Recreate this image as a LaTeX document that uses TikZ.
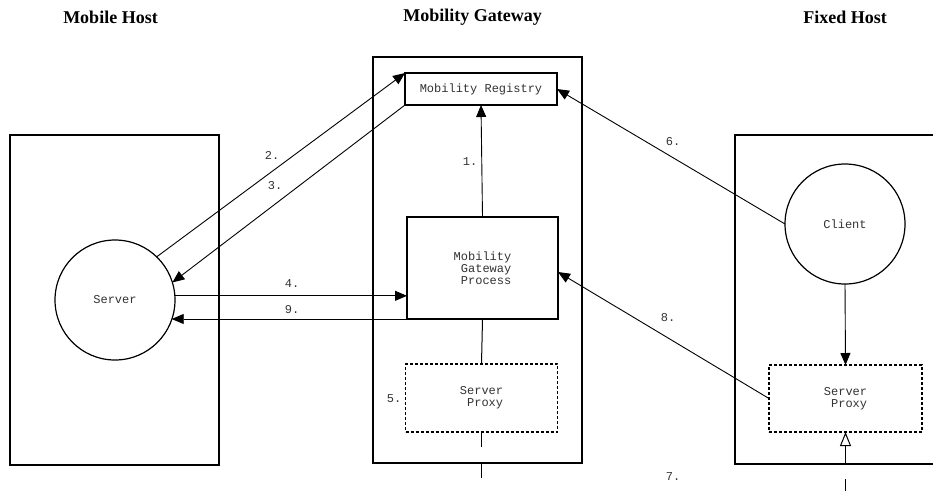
\documentclass[tikz,border=0pt]{standalone}
\usepackage{fontspec}
\setmainfont{Liberation Serif}
\newfontfamily\monofont{Liberation Mono}
\usetikzlibrary{arrows.meta}
\begin{document}
\begin{tikzpicture}[x=1pt,y=-1pt,
  title/.style={font=\fontsize{18}{20}\selectfont\bfseries},
  mono/.style={font=\monofont\fontsize{12}{12}\selectfont, text=black!80},
  hostbox/.style={draw, line width=1.4pt, inner sep=0pt, outer sep=0pt},
  solidbox/.style={draw, line width=1.4pt, inner sep=0pt, outer sep=0pt, mono, align=right},
  proxybox/.style={draw, line width=1.3pt, dash pattern=on 3pt off 2pt, inner sep=0pt, outer sep=0pt, mono, align=right},
  proc/.style={draw, circle, line width=1.2pt, minimum size=120pt, inner sep=0pt, outer sep=0pt, mono},
  conn/.style={line width=0.9pt},
  arr/.style={conn, -{Triangle[length=12pt,width=10pt]}},
  lbl/.style={mono, inner sep=0pt}
]
\useasboundingbox (0,0) rectangle (933,491);
\fill[white] (0,0) rectangle (933,491);

% titles
\node[title] (t1) at (110.5,17) {Mobile Host};
\node[title] (t2) at (472.5,17) {Mobility Gateway};
\node[title] (t3) at (845,17) {Fixed Host};

% host boxes
\node[hostbox, minimum width=209pt, minimum height=330pt] (mh) at (114.5,300) {};
\node[hostbox, minimum width=209pt, minimum height=406pt] (mg) at (477.5,260) {};
\node[hostbox, minimum width=205pt, minimum height=329pt] (fh) at (837.5,299.5) {};

% inner nodes
\node[solidbox, minimum width=152pt, minimum height=32pt] (reg) at (481,89) {Mobility Registry};
\node[solidbox, minimum width=151pt, minimum height=102pt] (process) at (482.5,268) {Mobility\\Gateway\\Process};
\node[proxybox, minimum width=152pt, minimum height=68pt] (gproxy) at (481.5,398) {Server\\Proxy};
\node[proxybox, minimum width=153pt, minimum height=67pt] (fproxy) at (845.5,398.5) {Server\\Proxy};
\node[proc] (server) at (115,300) {\raisebox{-3pt}{Server}};
\node[proc] (client) at (845,224) {Client};

% connectors
\draw[arr] (process.north) -- (reg.south);
\draw[arr] (server.46) -- (reg.north west);
\draw[arr] (reg.south west) -- (server.17);
\draw[arr] (server.4) -- (server.4 -| process.west);
\draw[arr] (process.south west) -- (process.south west -| server.-19.5);
\draw[arr] (client.west) -- (reg.east);
\draw[arr] (fproxy.west) -- ([yshift=-4pt]process.east);
\draw[arr] (client.south) -- (fproxy.north);
\draw[conn, line width=1pt] (process.south) -- (gproxy.north);

% dashed exits
\coordinate (g1) at (481.5,447);
\coordinate (g2) at (481.5,462);
\coordinate (g3) at (481.5,478);
\draw[conn, line width=1pt] (gproxy.south) -- (g1);
\draw[conn, line width=1pt] (g2) -- (g3);
\coordinate (f1) at (845.5,464);
\coordinate (f2) at (845.5,479);
\coordinate (f3) at (845.5,491);
\draw[conn, line width=1pt, -{Triangle[open,length=14pt,width=11pt]}] (f1) -- (fproxy.south);
\draw[conn, line width=1pt] (f2) -- (f3);

% labels
\node[lbl] (l1) at (470,162) {1.};
\node[lbl] (l2) at (272,155) {2.};
\node[lbl] (l3) at (275,186) {3.};
\node[lbl] (l4) at (292,284) {4.};
\node[lbl] (l5) at (394,399) {5.};
\node[lbl] (l6) at (673,142) {6.};
\node[lbl] (l7) at (673,477) {7.};
\node[lbl] (l8) at (668,318) {8.};
\node[lbl] (l9) at (292,310) {9.};
\end{tikzpicture}
\end{document}
